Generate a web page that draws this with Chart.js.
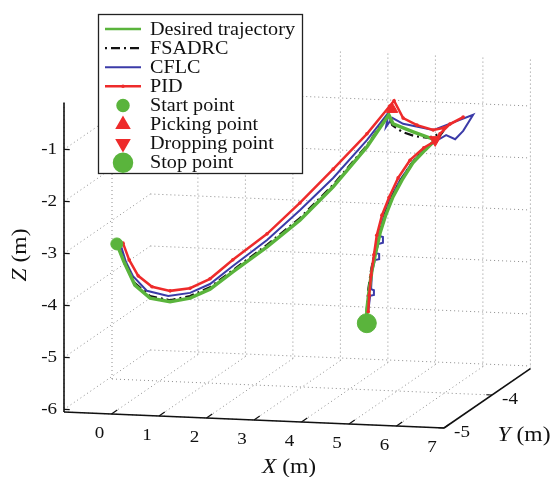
<!DOCTYPE html>
<html>
<head>
<meta charset="utf-8">
<script src="https://cdn.jsdelivr.net/npm/chart.js@4.4.1/dist/chart.umd.min.js"></script>
<style>
  html, body { margin: 0; padding: 0; background: #fff; }
  #wrap { width: 551px; height: 477px; }
</style>
</head>
<body>
<div id="wrap"><canvas id="trajChart" width="551" height="477"></canvas></div>
<script>
// axis ranges and ticks (m)
var xRange = [-1, 7];
var yRange = [-5, -3.2];
var zRange = [-6.05, -0.1];
var xTicks = [0, 1, 2, 3, 4, 5, 6, 7];
var yTicks = [-5, -4];
var zTicks = [-6, -5, -4, -3, -2, -1];

// desired trajectory
var desiredX = [-0.09, 0.04, 0.24, 0.53, 0.91, 1.29, 1.67, 2.10, 2.75, 3.38, 4.01, 4.65, 5.03,
  5.02, 5.24, 5.40,
  5.19, 4.93, 4.70, 4.51, 4.36, 4.24, 4.15, 4.07, 4.01, 3.96, 3.96];
var desiredY = [-4.80, -4.78, -4.75, -4.72, -4.68, -4.64, -4.60, -4.55, -4.48, -4.42, -4.35, -4.28, -4.20,
  -4.10, -3.90, -3.60,
  -3.60, -3.60, -3.60, -3.60, -3.60, -3.60, -3.60, -3.60, -3.60, -3.60, -3.60];
var desiredZ = [-2.91, -3.26, -3.72, -3.98, -4.06, -4.00, -3.84, -3.52, -3.06, -2.56, -1.94, -1.19, -0.61,
  -0.85, -1.12, -1.46,
  -1.66, -1.92, -2.26, -2.59, -2.94, -3.29, -3.66, -4.01, -4.40, -4.79, -5.04];

// FSADRC
var fsadrcX = [-0.09, 0.04, 0.24, 0.53, 0.91, 1.29, 1.67, 2.10, 2.75, 3.38, 4.01, 4.65, 5.03,
  5.02, 5.16, 5.33, 5.45, 5.59, 5.42,
  5.16, 4.91, 4.68, 4.49, 4.34, 4.22, 4.13, 4.05, 3.99, 3.96];
var fsadrcY = [-4.80, -4.78, -4.75, -4.72, -4.68, -4.64, -4.60, -4.55, -4.48, -4.42, -4.35, -4.28, -4.20,
  -4.12, -4.05, -3.95, -3.80, -3.65, -3.60,
  -3.60, -3.60, -3.60, -3.60, -3.60, -3.60, -3.60, -3.60, -3.60, -3.60];
var fsadrcZ = [-2.87, -3.23, -3.68, -3.94, -4.03, -3.96, -3.80, -3.49, -3.02, -2.52, -1.90, -1.16, -0.59,
  -0.86, -1.03, -1.17, -1.29, -1.29, -1.48,
  -1.66, -1.92, -2.26, -2.59, -2.94, -3.30, -3.66, -4.01, -4.40, -4.79];

// CFLC
var cflcX = [-0.02, 0.08, 0.20, 0.46, 0.87, 1.29, 1.67, 2.10, 2.75, 3.38, 4.01, 4.65, 5.03,
  4.92, 5.02, 5.23, 5.66, 6.30, 6.04, 5.82, 5.63, 5.42,
  5.16, 4.91, 4.66, 4.47, 4.32, 4.22, 4.30, 4.30, 4.20, 4.15, 4.22, 4.22, 4.13, 4.07, 4.05, 4.11, 4.11, 4.03, 3.99];
var cflcY = [-4.80, -4.78, -4.75, -4.72, -4.68, -4.64, -4.60, -4.55, -4.48, -4.42, -4.35, -4.28, -4.20,
  -4.15, -4.12, -4.10, -3.90, -3.70, -3.65, -3.60, -3.60, -3.60,
  -3.60, -3.60, -3.60, -3.60, -3.60, -3.60, -3.60, -3.60, -3.60, -3.60, -3.60, -3.60, -3.60, -3.60, -3.60, -3.60, -3.60, -3.60, -3.60];
var cflcZ = [-2.89, -3.26, -3.55, -3.84, -3.95, -3.90, -3.74, -3.41, -2.93, -2.37, -1.77, -1.06, -0.56,
  -0.88, -0.72, -0.84, -1.07, -0.88, -1.23, -1.43, -1.36, -1.48,
  -1.66, -1.92, -2.26, -2.59, -2.95, -3.35, -3.37, -3.48, -3.51, -3.68, -3.70, -3.80, -3.82, -4.05, -4.38, -4.40, -4.49, -4.51, -4.82];

// PID
var pidX = [0.04, 0.15, 0.31, 0.57, 0.91, 1.29, 1.67, 2.10, 2.75, 3.38, 4.01, 4.65, 5.05, 5.12,
  5.23, 5.42, 5.66, 5.77, 6.09, 5.76, 5.50, 5.40,
  5.16, 4.87, 4.62, 4.43, 4.28, 4.17, 4.11, 4.05, 4.01, 3.99];
var pidY = [-4.80, -4.78, -4.75, -4.72, -4.68, -4.64, -4.60, -4.55, -4.48, -4.42, -4.35, -4.28, -4.20, -4.18,
  -4.10, -4.00, -3.90, -3.80, -3.70, -3.65, -3.60, -3.60,
  -3.60, -3.60, -3.60, -3.60, -3.60, -3.60, -3.60, -3.60, -3.60, -3.60];
var pidZ = [-2.89, -3.22, -3.54, -3.76, -3.85, -3.81, -3.64, -3.29, -2.81, -2.23, -1.60, -0.94, -0.44, -0.35,
  -0.73, -0.92, -1.07, -1.09, -0.93, -1.11, -1.34, -1.48,
  -1.62, -1.87, -2.22, -2.60, -2.95, -3.34, -3.72, -4.11, -4.50, -4.82];

// key points [x, y, z]
var startPoint = [-0.09, -4.80, -2.91];
var pickingPoint = [5.10, -4.20, -0.50];
var droppingPoint = [5.40, -3.60, -1.46];
var stopPoint = [3.96, -3.60, -5.04];

// camera: screen position of the (xmin, ymin, zmin) corner and one metre along each axis
var view = { ox: 64, oy: 412, ex: [47.5, 2], ey: [48, -33], ez: [0, -52] };
var textStretch = 1.12;
var serif = '"Liberation Serif", "Times New Roman", serif';

function project(x, y, z) {
  var dx = x - xRange[0], dy = y - yRange[0], dz = z - zRange[0];
  return {
    x: view.ox + dx * view.ex[0] + dy * view.ey[0] + dz * view.ez[0],
    y: view.oy + dx * view.ex[1] + dy * view.ey[1] + dz * view.ez[1]
  };
}

function toPoints(xs, ys, zs) {
  return xs.map(function (x, i) { return project(x, ys[i], zs[i]); });
}

function drawText(ctx, str, x, y, font, align) {
  ctx.save();
  ctx.font = font;
  ctx.textAlign = align;
  ctx.textBaseline = 'middle';
  ctx.translate(x, y);
  ctx.scale(textStretch, 1);
  ctx.fillText(str, 0, 0);
  ctx.restore();
}

// axis title with italic letter, e.g. "X (m)"
function drawTitle(ctx, letter, unit, cx, cy, angle) {
  ctx.save();
  ctx.translate(cx, cy);
  ctx.rotate(angle);
  ctx.scale(textStretch, 1);
  ctx.textBaseline = 'middle';
  ctx.textAlign = 'left';
  ctx.font = 'italic 21px ' + serif;
  var w1 = ctx.measureText(letter).width;
  ctx.font = '21px ' + serif;
  var w2 = ctx.measureText(unit).width;
  var left = -(w1 + w2) / 2;
  ctx.font = 'italic 21px ' + serif;
  ctx.fillText(letter, left, 0);
  ctx.font = '21px ' + serif;
  ctx.fillText(unit, left + w1, 0);
  ctx.restore();
}

// grid walls, axis lines, ticks and labels
var box3d = {
  id: 'box3d',
  beforeDatasetsDraw: function (chart) {
    var ctx = chart.ctx;
    var sx = chart.scales.x, sy = chart.scales.y;
    var x0 = xRange[0], x1 = xRange[1], y0 = yRange[0], y1 = yRange[1], z0 = zRange[0], z1 = zRange[1];
    function px(x, y, z) {
      var p = project(x, y, z);
      return [sx.getPixelForValue(p.x), sy.getPixelForValue(p.y)];
    }
    function seg(a, b) {
      ctx.beginPath();
      ctx.moveTo(a[0], a[1]);
      ctx.lineTo(b[0], b[1]);
      ctx.stroke();
    }
    ctx.save();
    ctx.strokeStyle = '#8c8c8c';
    ctx.lineWidth = 1;
    ctx.setLineDash([1, 3]);
    // left wall
    zTicks.forEach(function (z) { seg(px(x0, y0, z), px(x0, y1, z)); });
    yTicks.forEach(function (y) { seg(px(x0, y, z0), px(x0, y, z1)); });
    // back wall
    xTicks.forEach(function (x) { seg(px(x, y1, z0), px(x, y1, z1)); });
    zTicks.forEach(function (z) { seg(px(x0, y1, z), px(x1, y1, z)); });
    // floor
    xTicks.forEach(function (x) { seg(px(x, y0, z0), px(x, y1, z0)); });
    yTicks.forEach(function (y) { seg(px(x0, y, z0), px(x1, y, z0)); });
    ctx.setLineDash([]);

    // axis lines
    ctx.strokeStyle = '#111';
    ctx.lineWidth = 1.6;
    seg(px(x0, y0, z0), px(x1, y0, z0));
    seg(px(x1, y0, z0), px(x1, y1, z0));
    seg(px(x0, y0, z0), px(x0, y0, z1));

    // ticks
    ctx.lineWidth = 1.2;
    xTicks.forEach(function (x) { seg(px(x, y0, z0), px(x, y0 + 0.12, z0)); });
    yTicks.forEach(function (y) { seg(px(x1, y, z0), px(x1 - 0.12, y, z0)); });
    zTicks.forEach(function (z) { seg(px(x0, y0, z), px(x0 + 0.12, y0, z)); });

    // tick labels
    ctx.fillStyle = '#111';
    var tickFont = '17px ' + serif;
    zTicks.forEach(function (z) {
      var p = px(x0, y0, z);
      drawText(ctx, String(z), p[0] - 7, p[1], tickFont, 'right');
    });
    xTicks.forEach(function (x) {
      var p = px(x, y0, z0);
      drawText(ctx, String(x), p[0] - 12, p[1] + 20, tickFont, 'center');
    });
    yTicks.forEach(function (y) {
      var p = px(x1, y, z0);
      drawText(ctx, String(y), p[0] + 18, p[1] + 5, tickFont, 'center');
    });

    // axis titles
    drawTitle(ctx, 'X', ' (m)', 289, 467, 0);
    drawTitle(ctx, 'Y', ' (m)', 524, 435, 0);
    drawTitle(ctx, 'Z', ' (m)', 20, 255, -Math.PI / 2);
    ctx.restore();
  }
};

// legend box in the upper left of the plot
var boxLegend = {
  id: 'boxLegend',
  afterDatasetsDraw: function (chart) {
    var ctx = chart.ctx;
    var left = 98, top = 14, w = 204, h = 159;
    ctx.save();
    ctx.fillStyle = '#fff';
    ctx.fillRect(left, top, w, h);
    ctx.strokeStyle = '#222';
    ctx.lineWidth = 1.3;
    ctx.strokeRect(left + 0.5, top + 0.5, w, h);
    chart.data.datasets.forEach(function (ds, i) {
      var yRow = top + 15 + i * 19.1;
      if (ds.showLine) {
        ctx.strokeStyle = ds.borderColor;
        ctx.lineWidth = Math.min(ds.borderWidth, 2.5);
        ctx.setLineDash(ds.borderDash || []);
        ctx.beginPath();
        ctx.moveTo(105, yRow);
        ctx.lineTo(141, yRow);
        ctx.stroke();
        ctx.setLineDash([]);
        if (ds.pointRadius > 0) {
          ctx.fillStyle = ds.pointBackgroundColor;
          ctx.beginPath();
          ctx.arc(123, yRow, ds.pointRadius, 0, Math.PI * 2);
          ctx.fill();
        }
      } else {
        ctx.fillStyle = ds.pointBackgroundColor;
        ctx.strokeStyle = ds.pointBackgroundColor;
        Chart.helpers.drawPoint(ctx, {
          pointStyle: ds.pointStyle,
          rotation: ds.pointRotation || 0,
          radius: ds.legendRadius,
          borderWidth: 1
        }, 123, yRow);
      }
      ctx.fillStyle = '#111';
      drawText(ctx, ds.label, 150, yRow + 1, '18px ' + serif, 'left');
    });
    ctx.restore();
  }
};

var green = '#5ab43c';
var red = '#ee2b2b';
var blue = '#3b3ba8';

function marker(label, pt, style, radius, legendRadius, color, rotation) {
  return {
    label: label,
    data: [project(pt[0], pt[1], pt[2])],
    showLine: false,
    pointStyle: style,
    pointRotation: rotation || 0,
    pointRadius: radius,
    legendRadius: legendRadius,
    pointBackgroundColor: color,
    pointBorderColor: color,
    pointBorderWidth: 1,
    order: 0,
    clip: false
  };
}

var ctx = document.getElementById('trajChart').getContext('2d');
var trajChart = new Chart(ctx, {
  type: 'scatter',
  data: {
    datasets: [
      {
        label: 'Desired trajectory',
        data: toPoints(desiredX, desiredY, desiredZ),
        showLine: true,
        borderColor: green,
        borderWidth: 3.5,
        pointRadius: 0,
        tension: 0,
        order: 2,
        clip: false
      },
      {
        label: 'FSADRC',
        data: toPoints(fsadrcX, fsadrcY, fsadrcZ),
        showLine: true,
        borderColor: '#111',
        borderWidth: 2.2,
        borderDash: [2, 4, 9, 4],
        pointRadius: 0,
        tension: 0,
        order: 3,
        clip: false
      },
      {
        label: 'CFLC',
        data: toPoints(cflcX, cflcY, cflcZ),
        showLine: true,
        borderColor: blue,
        borderWidth: 2,
        pointRadius: 0,
        tension: 0,
        order: 4,
        clip: false
      },
      {
        label: 'PID',
        data: toPoints(pidX, pidY, pidZ),
        showLine: true,
        borderColor: red,
        borderWidth: 2.5,
        pointRadius: 1.8,
        pointBackgroundColor: red,
        pointBorderWidth: 0,
        tension: 0,
        order: 1,
        clip: false
      },
      marker('Start point', startPoint, 'circle', 6, 5.5, green),
      marker('Picking point', pickingPoint, 'triangle', 6.5, 6.5, red),
      marker('Dropping point', droppingPoint, 'triangle', 6.5, 6.5, red, 180),
      marker('Stop point', stopPoint, 'circle', 9.5, 9, green)
    ]
  },
  options: {
    responsive: false,
    animation: false,
    layout: { padding: 0, autoPadding: false },
    scales: {
      x: { type: 'linear', min: 0, max: 551, display: false },
      y: { type: 'linear', min: 0, max: 477, reverse: true, display: false }
    },
    plugins: {
      legend: { display: false },
      tooltip: { enabled: false }
    }
  },
  plugins: [box3d, boxLegend]
});
</script>
</body>
</html>
